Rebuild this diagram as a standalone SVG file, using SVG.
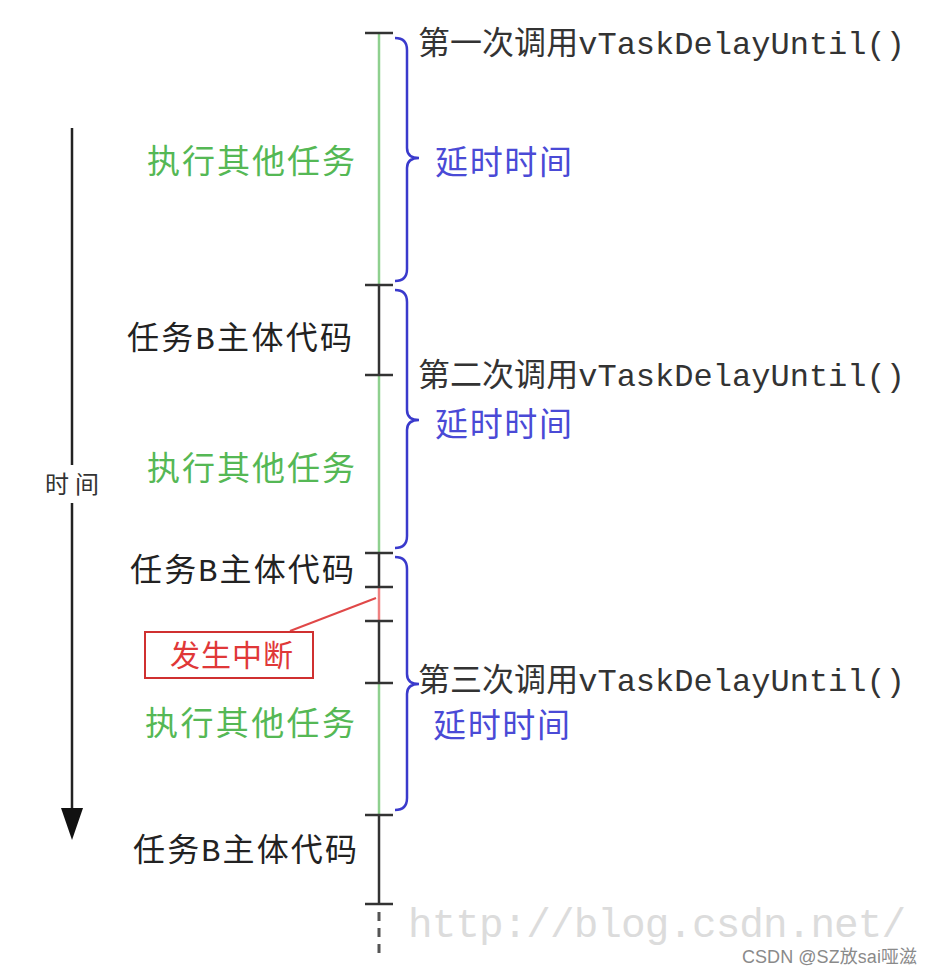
<svg xmlns="http://www.w3.org/2000/svg" width="933" height="975" viewBox="0 0 933 975">
<style>
.cjk{font-family:"Noto Sans CJK SC","Liberation Sans",sans-serif}
.call{font-family:"Liberation Mono","Noto Sans CJK SC",monospace;font-size:32px;fill:#333}
.task{font-family:"Liberation Mono","Noto Sans CJK SC",monospace;font-size:32px;fill:#222}
.green{font-family:"Noto Sans CJK SC",sans-serif;font-size:33px;fill:#55b855}
.blue{font-family:"Noto Sans CJK SC",sans-serif;font-size:33px;fill:#4a4ad6}
.tick{stroke:#333;stroke-width:2.5}
.brace{fill:none;stroke:#3a3acc;stroke-width:2.5}
.seg-g{stroke:#8fd08f;stroke-width:2.5}
.seg-k{stroke:#333;stroke-width:2.5}
.seg-r{stroke:#ee8080;stroke-width:2.5}
</style>
<rect width="933" height="975" fill="#fff"/>
<g id="watermark">
<text x="408" y="937" font-family="Liberation Mono, monospace" font-size="41" fill="#dcdcdc" textLength="498">http://blog.csdn.net/</text>
</g>
<g id="time-axis">
<line x1="72" y1="128" x2="72" y2="465" stroke="#222" stroke-width="2.5"/>
<line x1="72" y1="503" x2="72" y2="812" stroke="#222" stroke-width="2.5"/>
<polygon points="61,808 83,808 72,840" fill="#111"/>
<text x="72" y="493" text-anchor="middle" class="cjk" font-size="24" fill="#333" textLength="54">时间</text>
</g>
<g id="connectors">
<line class="seg-g" x1="379" y1="33" x2="379" y2="285"/>
<line class="seg-k" x1="379" y1="285" x2="379" y2="375"/>
<line class="seg-g" x1="379" y1="375" x2="379" y2="553"/>
<line class="seg-k" x1="379" y1="553" x2="379" y2="587"/>
<line class="seg-r" x1="379" y1="587" x2="379" y2="621"/>
<line class="seg-k" x1="379" y1="621" x2="379" y2="683"/>
<line class="seg-g" x1="379" y1="683" x2="379" y2="815"/>
<line class="seg-k" x1="379" y1="815" x2="379" y2="904"/>
<line x1="379" y1="912" x2="379" y2="957" stroke="#555" stroke-width="3" stroke-dasharray="9,7"/>
<line x1="290" y1="631" x2="376" y2="598" stroke="#e04848" stroke-width="2"/>
<line class="tick" x1="365" y1="33" x2="393" y2="33"/>
<line class="tick" x1="365" y1="285" x2="393" y2="285"/>
<line class="tick" x1="365" y1="375" x2="393" y2="375"/>
<line class="tick" x1="365" y1="553" x2="393" y2="553"/>
<line class="tick" x1="365" y1="587" x2="393" y2="587"/>
<line class="tick" x1="365" y1="621" x2="393" y2="621"/>
<line class="tick" x1="365" y1="683" x2="393" y2="683"/>
<line class="tick" x1="365" y1="815" x2="393" y2="815"/>
<line class="tick" x1="365" y1="904" x2="393" y2="904"/>
<path class="brace" d="M395,38 Q407,38 407,50 L407,148 Q407,158 419,158 Q407,158 407,168 L407,269 Q407,281 395,281"/>
<path class="brace" d="M395,290 Q407,290 407,302 L407,410 Q407,420 419,420 Q407,420 407,430 L407,536 Q407,548 395,548"/>
<path class="brace" d="M395,557 Q407,557 407,569 L407,674 Q407,684 419,684 Q407,684 407,694 L407,798 Q407,810 395,810"/>
</g>
<g id="call1"><text class="call" x="418" y="54" textLength="487">第一次调用vTaskDelayUntil()</text></g>
<g id="call2"><text class="call" x="418" y="386" textLength="487">第二次调用vTaskDelayUntil()</text></g>
<g id="call3"><text class="call" x="418" y="691" textLength="487">第三次调用vTaskDelayUntil()</text></g>
<g id="delay1"><text class="blue" x="435" y="174" textLength="137">延时时间</text></g>
<g id="delay2"><text class="blue" x="435" y="436" textLength="137">延时时间</text></g>
<g id="delay3"><text class="blue" x="433" y="737" textLength="137">延时时间</text></g>
<g id="other1"><text class="green" x="147" y="173" textLength="208">执行其他任务</text></g>
<g id="other2"><text class="green" x="147" y="480" textLength="208">执行其他任务</text></g>
<g id="other3"><text class="green" x="145" y="735" textLength="210">执行其他任务</text></g>
<g id="taskB1"><text class="task" x="127" y="349" textLength="225">任务B主体代码</text></g>
<g id="taskB2"><text class="task" x="130" y="581" textLength="224">任务B主体代码</text></g>
<g id="taskB3"><text class="task" x="133" y="861" textLength="224">任务B主体代码</text></g>
<g id="interrupt">
<rect x="145" y="632" width="168" height="46" fill="#fff" stroke="#d03030" stroke-width="2"/>
<text x="170" y="666" class="cjk" font-size="30" fill="#e03838" textLength="123">发生中断</text>
</g>
<g id="credit">
<text x="742" y="963" font-family="Liberation Sans, Noto Sans CJK SC, sans-serif" font-size="18" fill="#8a8a8a" stroke="#fff" stroke-width="3" paint-order="stroke" textLength="175">CSDN @SZ放sai哑滋</text>
</g>
</svg>
